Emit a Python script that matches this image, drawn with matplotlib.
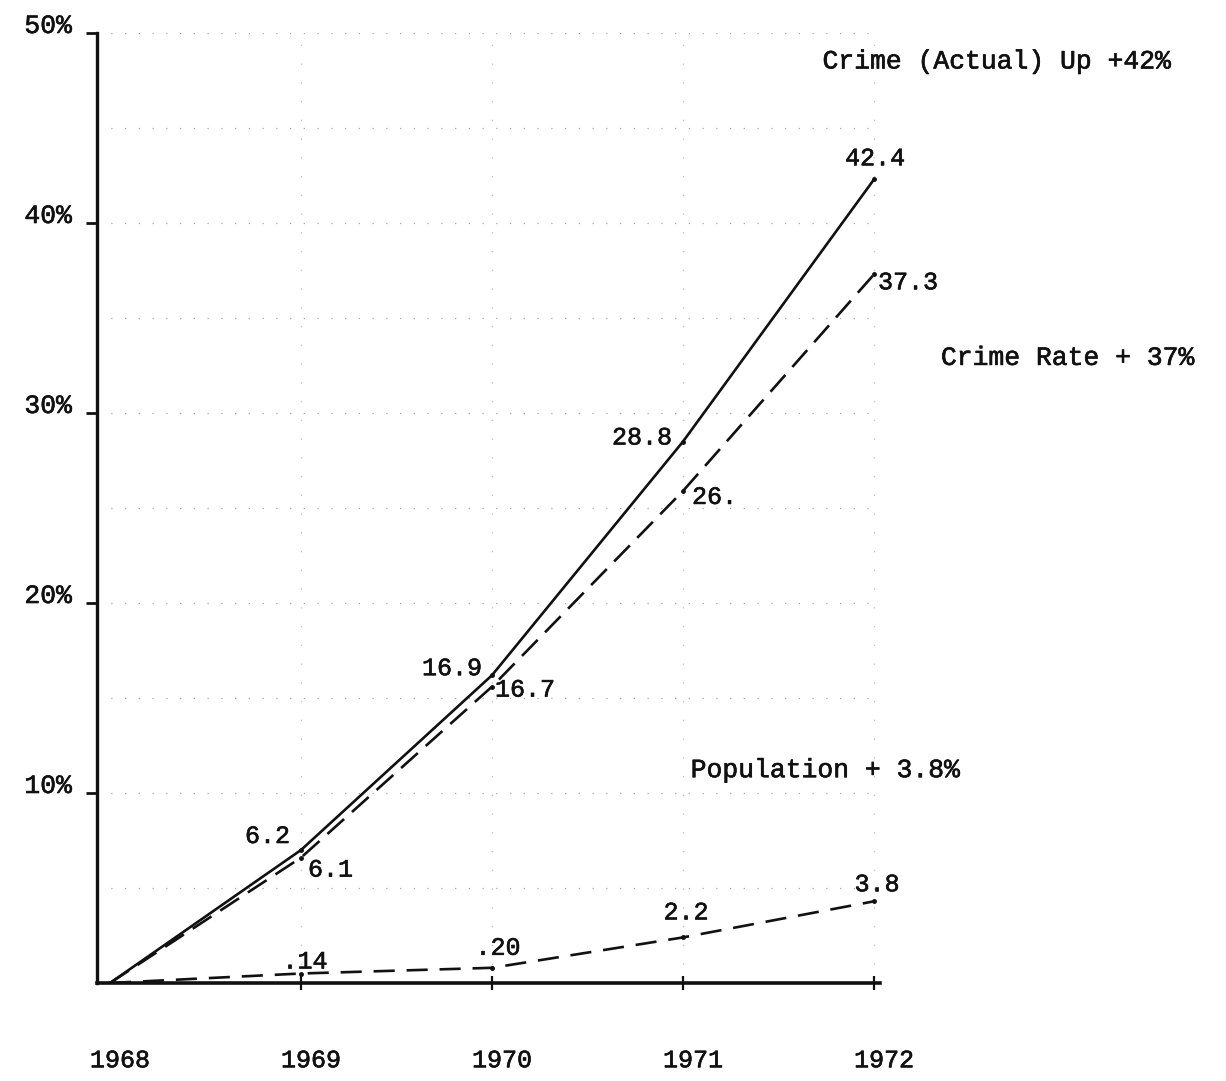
import matplotlib
matplotlib.use("Agg")
import matplotlib.pyplot as plt
import matplotlib.patheffects as pe
from matplotlib.transforms import ScaledTranslation
import numpy as np

# values (percent change since 1968)
years = [1968, 1969, 1970, 1971, 1972]
crime_actual = [0, 7.0, 16.2, 28.5, 42.3]
crime_rate = [0, 6.6, 15.6, 25.9, 37.3]
population = [0, 0.5, 0.8, 2.4, 4.3]

# the hand written numbers next to each point
actual_labels = ["6.2", "16.9", "28.8", "42.4"]
rate_labels = ["6.1", "16.7", "26.", "37.3"]
pop_labels = [".14", ".20", "2.2", "3.8"]

y_ticks = [10, 20, 30, 40, 50]
y_tick_labels = ["10%", "20%", "30%", "40%", "50%"]

series_notes = ["Crime (Actual) Up +42%", "Crime Rate + 37%", "Population + 3.8%"]

FONT = "Liberation Mono"
INK = "#111111"
# typewriter ink is a bit heavier than the plain font
TYPED = [pe.withStroke(linewidth=0.45, foreground=INK)]

fig = plt.figure(figsize=(12.26, 10.81), dpi=100)
ax = fig.add_axes([97 / 1226, 98 / 1081, 783 / 1226, 950 / 1081])

ax.set_xlim(1967.932, 1972.031)
ax.set_ylim(0, 50)

# faint dotted graph-paper lines
for g in np.arange(5, 51, 5):
    ax.axhline(g, color="#a8a8a8", lw=0.9, ls=(0, (1, 10)), zorder=0)
for yr in years[1:]:
    ax.axvline(yr, color="#c0c0c0", lw=0.9, ls=(0, (1, 14)), zorder=0)

ax.plot(years, crime_actual, color=INK, lw=1.9, marker=".", ms=5)
ax.plot(years, crime_rate, color=INK, lw=1.9, ls=(0, (8.5, 4)), marker=".", ms=5)
ax.plot(years, population, color=INK, lw=1.9, ls=(0, (8, 4.5)), marker=".", ms=5)

# point labels, offsets in pixels
actual_off = [(-11, 14, "right"), (-10, 7, "right"), (-11, 4, "right"), (1, 21, "center")]
rate_off = [(7, -12, "left"), (3, -3, "left"), (9, -6, "left"), (4, -8, "left")]
pop_off = [(4, 12, "center"), (6, 20, "center"), (3, 25, "center"), (3, 17, "center")]

for vals, labs, offs in [(crime_actual, actual_labels, actual_off),
                         (crime_rate, rate_labels, rate_off),
                         (population, pop_labels, pop_off)]:
    for yr, v, lab, (dx, dy, ha) in zip(years[1:], vals[1:], labs, offs):
        ax.annotate(lab, (yr, v), xytext=(dx, dy), textcoords="offset pixels",
                    ha=ha, va="center", fontsize=18, family=FONT, color=INK,
                    path_effects=TYPED)

# typed notes on the right
note_pos = [(1971.73, 48.5), (1972.35, 32.9), (1971.04, 11.2)]
for note, (nx, ny) in zip(series_notes, note_pos):
    ax.text(nx, ny, note, fontsize=19, family=FONT, color=INK,
            ha="left", va="center", clip_on=False, path_effects=TYPED)

# axes look
for side in ["top", "right"]:
    ax.spines[side].set_visible(False)
ax.spines["left"].set_linewidth(2.4)
ax.spines["bottom"].set_linewidth(2.6)
ax.spines["left"].set_color(INK)
ax.spines["bottom"].set_color(INK)

ax.set_yticks(y_ticks)
ax.set_yticklabels(y_tick_labels, family=FONT, fontsize=19, color=INK, va="baseline")
ax.tick_params(axis="y", direction="out", length=8, width=2, color=INK, pad=10)
for lab in ax.get_yticklabels():
    lab.set_path_effects(TYPED)

ax.set_xticks(years)
ax.set_xticklabels([str(y) for y in years], family=FONT, fontsize=18, color=INK)
ax.tick_params(axis="x", direction="inout", length=10, width=1.6, color=INK, pad=42)
shift = ScaledTranslation(0.1, 0, fig.dpi_scale_trans)
for lab in ax.get_xticklabels():
    lab.set_transform(lab.get_transform() + shift)
    lab.set_path_effects(TYPED)
ax.get_xticklines()[0].set_visible(False)
ax.get_xticklines()[1].set_visible(False)

fig.savefig("out.png", dpi=100)
